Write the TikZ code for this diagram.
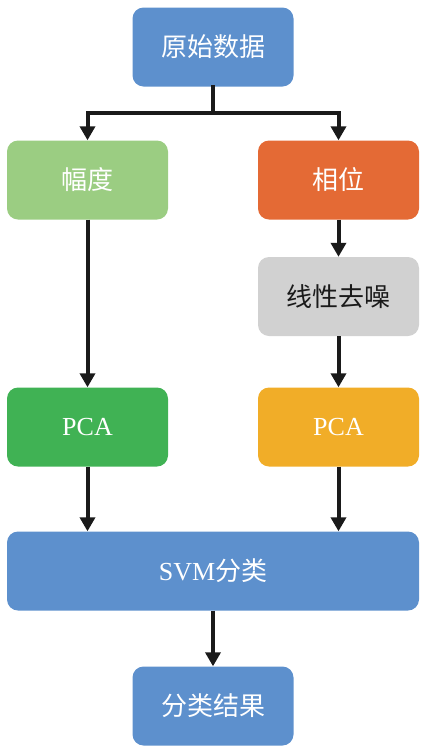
\documentclass[tikz,border=0pt]{standalone}
\usepackage{fontspec}
\setmainfont{Liberation Serif}
\newfontfamily\cjk{Noto Sans CJK SC}
\usetikzlibrary{arrows.meta}

\definecolor{boxblue}{RGB}{93,144,205}
\definecolor{boxlgreen}{RGB}{155,205,130}
\definecolor{boxred}{RGB}{228,106,53}
\definecolor{boxgray}{RGB}{209,209,209}
\definecolor{boxgreen}{RGB}{64,178,84}
\definecolor{boxorange}{RGB}{241,173,40}
\definecolor{arrowdark}{RGB}{26,26,26}

\tikzset{
  stagebox/.style={rounded corners=11pt, minimum width=161pt, minimum height=79pt,
    text=white, font=\fontsize{26}{30}\selectfont, inner sep=0pt},
  flow/.style={draw=arrowdark, line width=4pt,
    -{Triangle[width=15pt,length=14pt]}},
  plainline/.style={draw=arrowdark, line width=4pt, line cap=rect}
}

\begin{document}
\begin{tikzpicture}[x=1pt,y=-1pt]
    \useasboundingbox (0,0) rectangle (432,756);
    % boxes
    \node[stagebox, fill=boxblue] (raw) at (213,47) {\cjk 原始数据};
    \node[stagebox, fill=boxlgreen] (amp) at (87.5,180) {\cjk 幅度};
    \node[stagebox, fill=boxred] (phase) at (338.5,180) {\cjk 相位};
    \node[stagebox, fill=boxgray, text=arrowdark] (denoise) at (338.5,296.5) {\cjk 线性去噪};
    \node[stagebox, fill=boxgreen] (pcaA) at (87.5,427) {PCA};
    \node[stagebox, fill=boxorange] (pcaP) at (338.5,427) {PCA};
    \node[stagebox, fill=boxblue, minimum width=412pt] (svm) at (213,571) {SVM{\cjk 分类}};
    \node[stagebox, fill=boxblue] (result) at (213,706) {\cjk 分类结果};
    % connectors
    \coordinate (split) at (213,113);
    \draw[plainline] (raw.south) -- (split);
    \draw[flow] (split) -| (amp.north);
    \draw[flow] (split) -| (phase.north);
    \draw[flow] (phase) -- (denoise);
    \draw[flow] (amp) -- (pcaA);
    \draw[flow] (denoise) -- (pcaP);
    \draw[flow] (pcaA.south) -- (pcaA.south |- svm.north);
    \draw[flow] (pcaP.south) -- (pcaP.south |- svm.north);
    \draw[flow] (svm) -- (result);
\end{tikzpicture}
\end{document}
